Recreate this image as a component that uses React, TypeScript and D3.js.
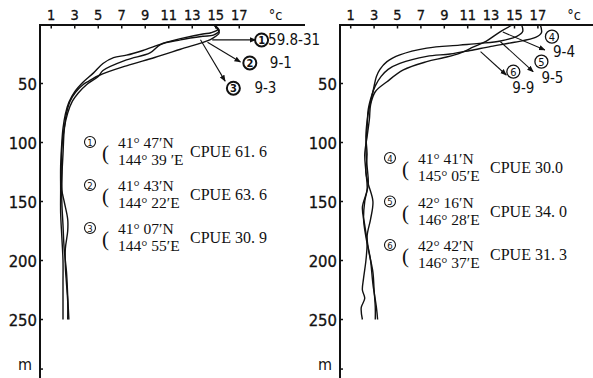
import { useRef, useEffect } from 'react'
import * as d3 from 'd3'

type Pt = [number, number] // [temp °C, depth m]

const tempTicks = [1, 3, 5, 7, 9, 11, 13, 15, 17]
const depthTicks = [50, 100, 150, 200, 250]

// left panel profiles
const st1: Pt[] = [[14.8, 0], [15.2, 4], [14.6, 7], [13.9, 8], [12, 12], [10.5, 16], [8.8, 22], [7.4, 26], [6.3, 28], [5.4, 33], [4.6, 41], [3.7, 49], [3.0, 57], [2.5, 66], [2.2, 76], [2.0, 88], [1.9, 100], [1.8, 120], [1.8, 140], [1.8, 160], [1.9, 180], [2.0, 200], [2.0, 220], [2.0, 250]]
const st2: Pt[] = [[14.8, 0], [15.3, 5], [14.8, 9], [13.9, 10], [12, 13], [10.3, 17], [9.4, 24], [7.4, 30], [5.4, 39], [5.0, 44], [4.0, 51], [3.3, 58], [2.8, 65], [2.4, 75], [2.1, 88], [1.9, 105], [1.9, 125], [1.9, 140], [2.1, 150], [2.4, 165], [2.4, 175], [2.2, 190], [2.2, 205], [2.3, 220], [2.4, 235], [2.4, 250]]
const st3: Pt[] = [[14.8, 0], [15.3, 7], [15.0, 10], [14.5, 13], [12, 21], [9.8, 28], [7.4, 35], [5.1, 43], [4.2, 48], [3.7, 51], [3.1, 57], [2.6, 65], [2.3, 75], [2.1, 90], [2.0, 110], [1.9, 130], [1.9, 150], [2.0, 170], [2.1, 190], [2.3, 210], [2.4, 230], [2.5, 250]]

// right panel profiles
const st4: Pt[] = [[17.2, 0], [17.3, 7], [16.8, 11], [15, 15], [13, 18.5], [11.2, 22], [9.5, 25], [7.5, 27], [5.2, 33], [4.2, 38], [3.6, 44], [3.1, 52], [2.8, 60], [2.5, 72], [2.4, 88], [2.3, 105], [2.4, 120], [2.5, 135], [2.2, 150], [2.1, 165], [2.3, 180], [2.6, 195], [2.9, 210], [3.0, 225], [3.1, 240], [3.1, 250]]
const st5: Pt[] = [[15.6, 0], [15.7, 6], [15.2, 10], [13.8, 14], [12, 16], [10.3, 17.5], [7.5, 20], [5.2, 25.8], [4.1, 31.5], [3.5, 38], [3.2, 44], [2.9, 57], [2.6, 70], [2.4, 82], [2.3, 95], [2.4, 110], [2.3, 125], [2.5, 135], [2.9, 150], [2.7, 165], [2.4, 180], [2.7, 200], [2.9, 220], [3.2, 240], [3.3, 250]]
const st6: Pt[] = [[14.9, 0], [13.8, 6], [12.6, 14], [11.5, 19], [10.3, 24.4], [9, 28], [7.5, 31.5], [5.5, 38.5], [4.1, 48.5], [3.1, 57], [2.7, 68], [2.6, 80], [2.4, 95], [2.2, 110], [2.3, 125], [2.4, 140], [2.0, 155], [2.2, 170], [2.4, 185], [2.3, 200], [2.1, 215], [2.0, 225], [2.2, 232], [1.9, 240], [2.0, 250]]

// station table
const leftNos = ['1', '2', '3']
const leftLat = ['41° 47′N', '41° 43′N', '41° 07′N']
const leftLon = ['144° 39 ′E', '144° 22′E', '144° 55′E']
const leftCpue = ['CPUE 61. 6', 'CPUE 63. 6', 'CPUE 30. 9']
const rightNos = ['4', '5', '6']
const rightLat = ['41° 41′N', '42° 16′N', '42° 42′N']
const rightLon = ['145° 05′E', '146° 28′E', '146° 37′E']
const rightCpue = ['CPUE 30.0', 'CPUE 34. 0', 'CPUE 31. 3']

// date pointers: from curve, to arrow tip, circle centre, label
const leftDates = ['59.8-31', '9-1', '9-3']
const leftFrom: Pt[] = [[14.7, 13], [14.3, 15], [13.7, 13]]
const leftTo: Pt[] = [[18.4, 13], [17.1, 31.8], [15.8, 48]]
const leftCircle: Pt[] = [[18.9, 13.1], [17.9, 32.6], [16.5, 54]]
const rightDates = ['9-4', '9-5', '9-9']
const rightFrom: Pt[] = [[14.0, 6.4], [13.8, 14.6], [12.1, 23]]
const rightTo: Pt[] = [[17.6, 21.6], [16.6, 40], [14.3, 42.8]]
const rightCircle: Pt[] = [[18.2, 10.3], [17.3, 31.5], [14.9, 40]]

const SANS = "'DejaVu Sans Condensed', 'DejaVu Sans', sans-serif"
const SERIF = "'Liberation Serif', 'DejaVu Serif', serif"

interface PanelCfg {
  axisX: number
  x0: number
  k: number
  lineEnd: number
  curves: Pt[][]
  nos: string[]
  lat: string[]
  lon: string[]
  cpue: string[]
  rowY: number
  rowGap: number
  dates: string[]
  from: Pt[]
  to: Pt[]
  circle: Pt[]
  dateDx: number[]
  dateDy: number[]
  boldCircle: boolean
}

const panels: PanelCfg[] = [
  {
    axisX: 40, x0: 39.5, k: 11.75, lineEnd: 305,
    curves: [st1, st2, st3],
    nos: leftNos, lat: leftLat, lon: leftLon, cpue: leftCpue, rowY: 142, rowGap: 43,
    dates: leftDates, from: leftFrom, to: leftTo, circle: leftCircle,
    dateDx: [6.5, 20, 21], dateDy: [5, 5, 5], boldCircle: true,
  },
  {
    axisX: 340, x0: 339, k: 11.7, lineEnd: 593,
    curves: [st4, st5, st6],
    nos: rightNos, lat: rightLat, lon: rightLon, cpue: rightCpue, rowY: 158, rowGap: 43.5,
    dates: rightDates, from: rightFrom, to: rightTo, circle: rightCircle,
    dateDx: [1, 0, -1], dateDy: [20, 21, 21], boldCircle: false,
  },
]

export default function App() {
  const svgRef = useRef<SVGSVGElement>(null)

  useEffect(() => {
    if (!svgRef.current) return
    const svg = d3.select(svgRef.current)
    svg.selectAll('*').remove()

    svg.append('defs').append('marker')
      .attr('id', 'arr')
      .attr('viewBox', '0 0 10 10')
      .attr('refX', 9).attr('refY', 5)
      .attr('markerWidth', 6).attr('markerHeight', 6)
      .attr('orient', 'auto')
      .append('path')
      .attr('d', 'M0,1 L10,5 L0,9 Z')
      .attr('fill', '#111')

    const y = d3.scaleLinear().domain([0, 250]).range([24.5, 319.5])

    panels.forEach(p => {
      const x = d3.scaleLinear().domain([0, 17]).range([p.x0, p.x0 + p.k * 17])
      const g = svg.append('g')

      // top axis
      g.append('line')
        .attr('x1', p.axisX).attr('x2', p.lineEnd)
        .attr('y1', 25).attr('y2', 25)
        .attr('stroke', '#111').attr('stroke-width', 2)
      g.selectAll('.tt')
        .data(tempTicks)
        .join('line')
        .attr('x1', d => x(d)).attr('x2', d => x(d))
        .attr('y1', 25).attr('y2', 28.5)
        .attr('stroke', '#111').attr('stroke-width', 1.5)
      g.selectAll('.tl')
        .data(tempTicks)
        .join('text')
        .attr('x', d => x(d)).attr('y', 20)
        .attr('text-anchor', 'middle')
        .attr('font-family', SANS).attr('font-size', 14.5)
        .attr('fill', '#111').attr('stroke', '#111').attr('stroke-width', 0.3)
        .text(d => d)
      g.append('text')
        .attr('x', x(20.1)).attr('y', 20)
        .attr('text-anchor', 'middle')
        .attr('font-family', SANS).attr('font-size', 14.5)
        .attr('fill', '#111')
        .text('°c')

      // depth axis
      g.append('line')
        .attr('x1', p.axisX).attr('x2', p.axisX)
        .attr('y1', 24).attr('y2', 378)
        .attr('stroke', '#111').attr('stroke-width', 2)
      g.selectAll('.dt')
        .data([...depthTicks, 292])
        .join('line')
        .attr('x1', p.axisX).attr('x2', p.axisX + 3)
        .attr('y1', d => y(d)).attr('y2', d => y(d))
        .attr('stroke', '#111').attr('stroke-width', 1.5)
      g.selectAll('.dl')
        .data(depthTicks)
        .join('text')
        .attr('x', p.axisX - 3).attr('y', d => y(d) + 6)
        .attr('text-anchor', 'end')
        .attr('font-family', SANS).attr('font-size', 16.5)
        .attr('fill', '#111').attr('stroke', '#111').attr('stroke-width', 0.3)
        .text(d => d)
      g.append('text')
        .attr('x', p.axisX - 8).attr('y', y(290) + 3)
        .attr('text-anchor', 'end')
        .attr('font-family', SANS).attr('font-size', 16)
        .attr('fill', '#111')
        .text('m')

      // profiles
      const line = d3.line<Pt>()
        .x(d => x(d[0]))
        .y(d => y(d[1]))
        .curve(d3.curveCatmullRom.alpha(0.5))
      g.selectAll('.prof')
        .data(p.curves)
        .join('path')
        .attr('d', d => line(d))
        .attr('fill', 'none')
        .attr('stroke', '#111')
        .attr('stroke-width', 1.4)

      // date pointers
      p.dates.forEach((lab, i) => {
        g.append('line')
          .attr('x1', x(p.from[i][0])).attr('y1', y(p.from[i][1]))
          .attr('x2', x(p.to[i][0])).attr('y2', y(p.to[i][1]))
          .attr('stroke', '#111').attr('stroke-width', 1.1)
          .attr('marker-end', 'url(#arr)')
        const cx = x(p.circle[i][0])
        const cy = y(p.circle[i][1])
        g.append('circle')
          .attr('cx', cx).attr('cy', cy).attr('r', 6.5)
          .attr('fill', 'white').attr('stroke', '#111')
          .attr('stroke-width', p.boldCircle ? 2 : 1.3)
        g.append('text')
          .attr('x', cx).attr('y', cy + 4)
          .attr('text-anchor', 'middle')
          .attr('font-family', SANS).attr('font-size', 11)
          .attr('font-weight', p.boldCircle ? 'bold' : 'normal')
          .attr('fill', '#111')
          .text(p.nos[i])
        const dx = p.boldCircle ? p.dateDx[i] : [-6, -7, -8][i] + 7
        g.append('text')
          .attr('x', cx + dx).attr('y', cy + p.dateDy[i])
          .attr('font-family', SANS).attr('font-size', 15)
          .attr('fill', '#111')
          .text(lab)
      })

      // station table
      p.nos.forEach((n, i) => {
        const cx = p.axisX + 50
        const cy = p.rowY + i * p.rowGap
        g.append('circle')
          .attr('cx', cx).attr('cy', cy).attr('r', 5.5)
          .attr('fill', 'none').attr('stroke', '#111').attr('stroke-width', 1.1)
        g.append('text')
          .attr('x', cx).attr('y', cy + 3.5)
          .attr('text-anchor', 'middle')
          .attr('font-family', SANS).attr('font-size', 9.5)
          .attr('fill', '#111')
          .text(n)
        g.append('text')
          .attr('x', cx + 12).attr('y', cy + 18)
          .attr('font-family', SERIF).attr('font-size', 21)
          .attr('fill', '#111')
          .text('(')
        g.append('text')
          .attr('x', cx + 28).attr('y', cy + 6)
          .attr('font-family', SERIF).attr('font-size', 15.5)
          .attr('fill', '#111')
          .text(p.lat[i])
        g.append('text')
          .attr('x', cx + 28).attr('y', cy + 23)
          .attr('font-family', SERIF).attr('font-size', 15.5)
          .attr('fill', '#111')
          .text(p.lon[i])
        g.append('text')
          .attr('x', cx + 100).attr('y', cy + 15)
          .attr('font-family', SERIF).attr('font-size', 16)
          .attr('fill', '#111')
          .text(p.cpue[i])
      })
    })
  }, [])

  return (
    <svg
      ref={svgRef}
      width={593}
      height={378}
      style={{ position: 'absolute', left: 0, top: 0, background: 'white' }}
    />
  )
}
